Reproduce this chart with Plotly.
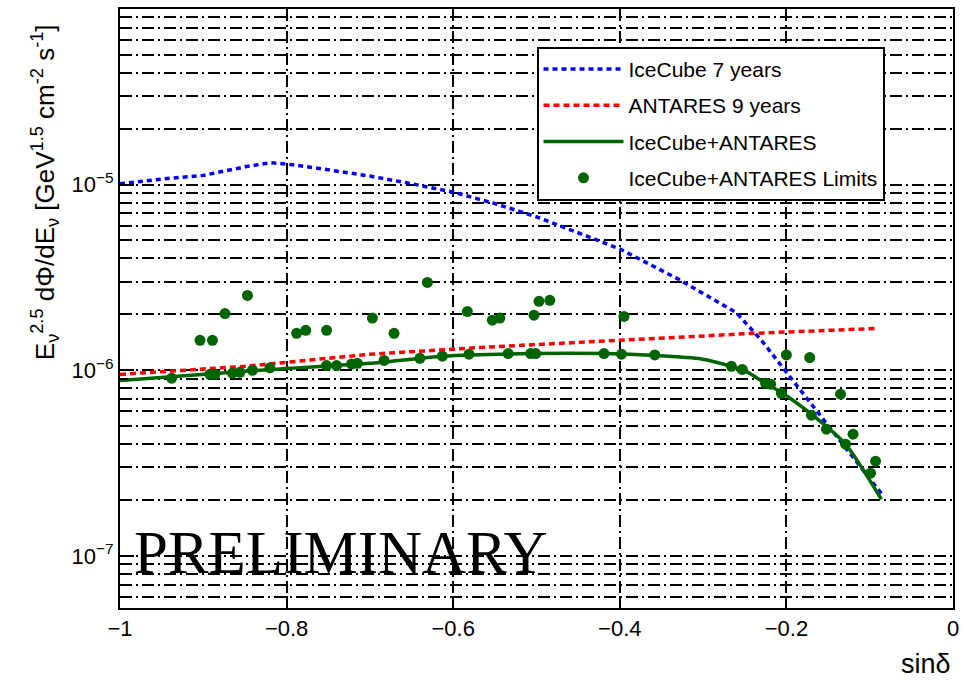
import plotly.graph_objects as go

# --- IceCube 7 years sensitivity (E^2.5 flux normalisation vs sin(dec)) ---
icecube_sindec = [-1.0, -0.95, -0.90, -0.85, -0.82, -0.80, -0.75, -0.70, -0.65, -0.60,
                  -0.55, -0.50, -0.45, -0.40, -0.33, -0.26, -0.23, -0.20, -0.16, -0.12, -0.085]
icecube_flux = [1.01e-5, 1.07e-5, 1.12e-5, 1.245e-5, 1.31e-5, 1.29e-5, 1.20e-5, 1.11e-5,
                1.01e-5, 9.1e-6, 7.9e-6, 6.7e-6, 5.5e-6, 4.5e-6, 3.1e-6, 2.04e-6, 1.45e-6,
                9.8e-7, 5.75e-7, 3.4e-7, 2.14e-7]

# --- ANTARES 9 years sensitivity ---
antares_sindec = [-1.0, -0.85, -0.70, -0.55, -0.40, -0.24, -0.09]
antares_flux = [9.5e-7, 1.05e-6, 1.22e-6, 1.34e-6, 1.45e-6, 1.58e-6, 1.68e-6]

# --- Combined IceCube+ANTARES sensitivity ---
combined_sindec = [-1.0, -0.82, -0.70, -0.613, -0.505, -0.419, -0.357, -0.302, -0.266,
                   -0.249, -0.225, -0.204, -0.170, -0.129, -0.086]
combined_flux = [8.8e-7, 1.01e-6, 1.09e-6, 1.19e-6, 1.23e-6, 1.23e-6, 1.20e-6, 1.15e-6,
                 1.05e-6, 9.9e-7, 8.5e-7, 7.5e-7, 5.8e-7, 4.0e-7, 2.02e-7]

# --- Combined upper limits for individual sources ---
limit_sindec = [-0.938, -0.904, -0.892, -0.889, -0.886, -0.874, -0.865, -0.856, -0.847,
                -0.841, -0.820, -0.788, -0.777, -0.752, -0.752, -0.740, -0.722, -0.715,
                -0.697, -0.683, -0.671, -0.640, -0.631, -0.613, -0.583, -0.581, -0.553,
                -0.544, -0.534, -0.507, -0.503, -0.501, -0.497, -0.484, -0.419, -0.398,
                -0.395, -0.358, -0.266, -0.253, -0.225, -0.219, -0.206, -0.200, -0.172,
                -0.170, -0.152, -0.135, -0.129, -0.120, -0.099, -0.093]
limit_flux = [9.06e-7, 1.45e-6, 9.51e-7, 1.45e-6, 9.51e-7, 2.02e-6, 9.64e-7, 9.75e-7,
              2.53e-6, 1.00e-6, 1.03e-6, 1.58e-6, 1.64e-6, 1.64e-6, 1.06e-6, 1.06e-6,
              1.08e-6, 1.09e-6, 1.91e-6, 1.13e-6, 1.58e-6, 1.16e-6, 2.97e-6, 1.19e-6,
              2.07e-6, 1.22e-6, 1.86e-6, 1.91e-6, 1.23e-6, 1.23e-6, 1.98e-6, 1.23e-6,
              2.35e-6, 2.38e-6, 1.23e-6, 1.22e-6, 1.95e-6, 1.21e-6, 1.05e-6, 1.01e-6,
              8.51e-7, 8.41e-7, 7.52e-7, 1.21e-6, 1.17e-6, 5.73e-7, 4.82e-7, 7.43e-7,
              4.00e-7, 4.53e-7, 2.79e-7, 3.24e-7]

# Axis ticks
x_tick_values = [-1.0, -0.8, -0.6, -0.4, -0.2, 0.0]
x_tick_labels = ["\u22121", "\u22120.8", "\u22120.6", "\u22120.4", "\u22120.2", "0"]
y_decades = [-8, -7, -6, -5, -4]
y_minor_mantissas = [2, 3, 4, 5, 6, 7, 8, 9]

y_major_vals = [10.0 ** d for d in y_decades]
y_major_text = [f"10<sup>\u2212{-d}</sup>" for d in y_decades]
y_minor_vals = [m * 10.0 ** d for d in y_decades for m in y_minor_mantissas]

GREEN = "rgb(0,100,0)"
FONT = "Liberation Sans, Arial, Helvetica, sans-serif"

fig = go.Figure()
fig.add_trace(go.Scatter(
    x=icecube_sindec, y=icecube_flux, mode="lines", name="IceCube 7 years",
    legendgroup="a", line=dict(color="#0000ff", width=3.5, dash="5px,4px")))
fig.add_trace(go.Scatter(
    x=antares_sindec, y=antares_flux, mode="lines", name="ANTARES 9 years",
    legendgroup="b", line=dict(color="#ff0000", width=3.5, dash="6px,4px")))
fig.add_trace(go.Scatter(
    x=combined_sindec, y=combined_flux, mode="lines", name="IceCube+ANTARES",
    legendgroup="c", line=dict(color=GREEN, width=3.5, shape="spline", smoothing=0.6)))
fig.add_trace(go.Scatter(
    x=limit_sindec, y=limit_flux, mode="markers", name="IceCube+ANTARES Limits",
    legendgroup="d", marker=dict(color=GREEN, size=11, symbol="circle")))

grid_dash = "12px,4px,2px,4px"

fig.update_layout(
    width=966, height=680,
    margin=dict(l=120, r=10, t=7, b=72),
    paper_bgcolor="white", plot_bgcolor="white",
    font=dict(family=FONT, color="black"),
    showlegend=True,
    legend=dict(
        x=0.5, y=0.937, xanchor="left", yanchor="top",
        bgcolor="white", bordercolor="black", borderwidth=2,
        font=dict(family=FONT, size=21, color="black"),
        traceorder="grouped", tracegroupgap=6, itemwidth=80,
        entrywidth=270, entrywidthmode="pixels",
    ),
    xaxis=dict(
        range=[-1.0, 0.0],
        tickmode="array", tickvals=x_tick_values, ticktext=x_tick_labels,
        ticks="inside", ticklen=12, tickwidth=2, tickcolor="black",
        tickfont=dict(family=FONT, size=22, color="black"),
        showline=True, linecolor="black", linewidth=2, mirror=True,
        showgrid=True, gridcolor="black", gridwidth=2, griddash=grid_dash,
        zeroline=False,
    ),
    yaxis=dict(
        type="log", range=[-7.28, -4.055],
        tickmode="array", tickvals=y_major_vals, ticktext=y_major_text,
        ticks="inside", ticklen=14, tickwidth=2, tickcolor="black",
        tickfont=dict(family=FONT, size=22, color="black"),
        showline=True, linecolor="black", linewidth=2, mirror=True,
        showgrid=True, gridcolor="black", gridwidth=2, griddash=grid_dash,
        minor=dict(tickmode="array", tickvals=y_minor_vals, ticks="inside",
                   ticklen=8, tickwidth=2, tickcolor="black",
                   showgrid=True, gridcolor="black", gridwidth=2, griddash=grid_dash),
        zeroline=False,
    ),
    annotations=[
        dict(text="E<sub>\u03bd</sub><sup>2.5</sup> d\u03a6/dE<sub>\u03bd</sub> "
                  "[GeV<sup>1.5</sup> cm<sup>-2</sup> s<sup>-1</sup>]",
             xref="paper", yref="paper", x=-0.09, y=0.978,
             xanchor="center", yanchor="top", textangle=-90, showarrow=False,
             font=dict(family=FONT, size=26, color="black")),
        dict(text="sin\u03b4", xref="paper", yref="paper", x=1.0, y=-0.093,
             xanchor="right", yanchor="middle", showarrow=False,
             font=dict(family=FONT, size=27, color="black")),
        dict(text="PRELIMINARY", xref="paper", yref="paper", x=0.0144, y=0.093,
             xanchor="left", yanchor="middle", showarrow=False,
             font=dict(family="Liberation Serif, Times New Roman, serif", size=61,
                       color="black")),
    ],
)

fig.write_html("out.html")
